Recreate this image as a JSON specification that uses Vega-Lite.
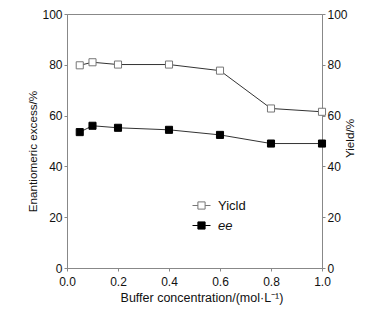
{
  "$schema": "https://vega.github.io/schema/vega-lite/v6.json",
  "width": 255,
  "height": 254,
  "autosize": {"type": "none"},
  "padding": {"left": 67, "top": 14, "right": 48, "bottom": 41},
  "background": "white",
  "config": {
    "view": {"stroke": "#888", "strokeWidth": 1},
    "font": "Liberation Sans",
    "axis": {
      "grid": false,
      "domainColor": "#888",
      "tickColor": "#888",
      "tickSize": 3,
      "labelFontSize": 12,
      "labelColor": "#111",
      "labelFlush": false,
      "labelPadding": 2,
      "titleFontSize": 12,
      "titleFontWeight": "normal",
      "titleColor": "#111"
    }
  },
  "data": {
    "values": [
      {"x": 0.05, "value": 79.8, "series": "Yicld"},
      {"x": 0.1, "value": 81.0, "series": "Yicld"},
      {"x": 0.2, "value": 80.1, "series": "Yicld"},
      {"x": 0.4, "value": 80.1, "series": "Yicld"},
      {"x": 0.6, "value": 77.7, "series": "Yicld"},
      {"x": 0.8, "value": 62.8, "series": "Yicld"},
      {"x": 1.0, "value": 61.5, "series": "Yicld"},
      {"x": 0.05, "value": 53.5, "series": "ee"},
      {"x": 0.1, "value": 56.0, "series": "ee"},
      {"x": 0.2, "value": 55.2, "series": "ee"},
      {"x": 0.4, "value": 54.4, "series": "ee"},
      {"x": 0.6, "value": 52.4, "series": "ee"},
      {"x": 0.8, "value": 49.0, "series": "ee"},
      {"x": 1.0, "value": 49.0, "series": "ee"}
    ]
  },
  "encoding": {
    "x": {
      "field": "x",
      "type": "quantitative",
      "scale": {"domain": [0, 1]},
      "axis": {
        "values": [0, 0.2, 0.4, 0.6, 0.8, 1.0],
        "format": ".1f",
        "title": "Buffer concentration/(mol·L⁻¹)",
        "labelPadding": 5,
        "titleFontSize": 12.5,
        "titleX": 134.5,
        "titlePadding": 4
      }
    }
  },
  "layer": [
    {
      "mark": {"type": "line", "strokeWidth": 1, "color": "#333"},
      "encoding": {
        "detail": {"field": "series"},
        "y": {
          "field": "value",
          "type": "quantitative",
          "scale": {"domain": [0, 100]},
          "axis": {
            "orient": "left",
            "values": [0, 20, 40, 60, 80, 100],
            "title": "Enantiomeric excess/%",
            "titleFontSize": 11.7,
            "titleY": 137,
            "titlePadding": 3
          }
        }
      }
    },
    {
      "mark": {"type": "point", "shape": "square", "size": 50, "strokeWidth": 1, "opacity": 1},
      "encoding": {
        "y": {
          "field": "value",
          "type": "quantitative",
          "scale": {"domain": [0, 100]},
          "axis": {
            "orient": "right",
            "values": [0, 20, 40, 60, 80, 100],
            "title": "Yield/%",
            "titleFontSize": 11.7,
            "titleAngle": 270,
            "titleY": 124,
            "titlePadding": 8
          }
        },
        "fill": {
          "field": "series",
          "type": "nominal",
          "scale": {"domain": ["Yicld", "ee"], "range": ["white", "black"]},
          "legend": {
            "orient": "none",
            "legendX": 125,
            "legendY": 182,
            "title": null,
            "symbolType": "M-1,0H-0.4M0.4,0H1M-0.4,-0.4H0.4V0.4H-0.4Z",
            "symbolSize": 324,
            "symbolStrokeWidth": 1,
            "labelFontSize": 13,
            "labelColor": "#111",
            "labelOffset": 7,
            "rowPadding": 3,
            "labelFontStyle": {"expr": "datum.label == 'ee' ? 'italic' : 'normal'"}
          }
        },
        "stroke": {
          "field": "series",
          "type": "nominal",
          "scale": {"domain": ["Yicld", "ee"], "range": ["#777", "black"]},
          "legend": {
            "orient": "none",
            "legendX": 125,
            "legendY": 182,
            "title": null,
            "symbolType": "M-1,0H-0.4M0.4,0H1M-0.4,-0.4H0.4V0.4H-0.4Z",
            "symbolSize": 324,
            "symbolStrokeWidth": 1,
            "labelFontSize": 13,
            "labelColor": "#111",
            "labelOffset": 7,
            "rowPadding": 3,
            "labelFontStyle": {"expr": "datum.label == 'ee' ? 'italic' : 'normal'"}
          }
        }
      }
    }
  ],
  "resolve": {"axis": {"y": "independent"}}
}
